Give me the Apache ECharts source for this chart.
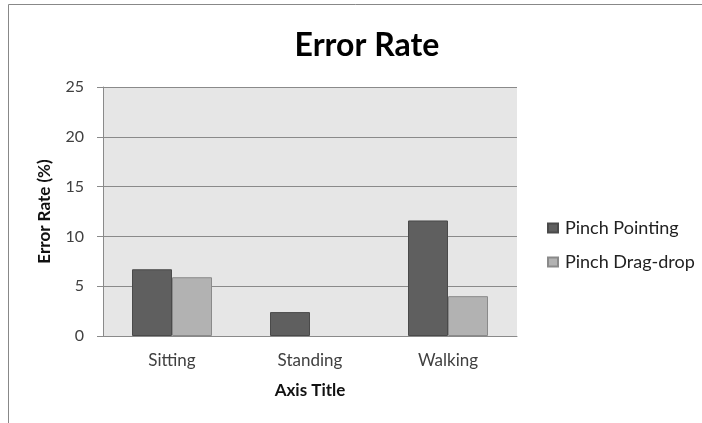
<!DOCTYPE html>
<html>
<head>
<meta charset="utf-8">
<script src="https://cdn.jsdelivr.net/npm/echarts@6/dist/echarts.min.js"></script>
<style>
html,body{margin:0;padding:0;background:#fff;}
#c{width:702px;height:423px;}
</style>
</head>
<body>
<div id="c"></div>
<script>
var categories = ['Sitting', 'Standing', 'Walking'];
var seriesNames = ['Pinch Pointing', 'Pinch Drag-drop'];
var pinchPointing = [6.7, 2.4, 11.6];
var pinchDragDrop = [5.9, 0, 4.0];
var yTicks = [0, 5, 10, 15, 20, 25];

function toBarData(values) {
  return values.map(function (v) {
    return v === 0 ? {value: v, itemStyle: {borderWidth: 0}} : v;
  });
}

var font = 'Lato, "Open Sans", sans-serif';
var chart = echarts.init(document.getElementById('c'));
chart.setOption({
  animation: false,
  backgroundColor: '#ffffff',
  title: {
    text: 'Error Rate',
    left: 362, top: 25, textAlign: 'center',
    textStyle: {fontFamily: font, fontWeight: 'bold', fontSize: 32, color: '#000'}
  },
  legend: {
    orient: 'vertical', left: 542, top: 214, itemGap: 16,
    itemWidth: 10, itemHeight: 9, icon: 'rect',
    textStyle: {fontFamily: font, fontSize: 18, color: '#222', padding: [0,0,0,2]},
    data: seriesNames
  },
  graphic: [{
    type: 'rect', silent: true,
    shape: {x: 8.5, y: 4.5, width: 720, height: 440},
    style: {fill: 'none', stroke: '#888', lineWidth: 1}
  }],
  grid: {
    left: 103, right: 185, top: 87, bottom: 87,
    show: true, backgroundColor: '#e6e6e6', borderWidth: 0
  },
  xAxis: {
    type: 'category', data: categories,
    name: 'Axis Title', nameLocation: 'middle', nameGap: 46,
    nameTextStyle: {fontFamily: font, fontWeight: 'bold', fontSize: 17, color: '#111'},
    axisLine: {lineStyle: {color: '#8a8a8a', width: 1}},
    axisTick: {show: false},
    axisLabel: {fontFamily: font, fontSize: 17, color: '#404040', margin: 16}
  },
  yAxis: {
    type: 'value', min: yTicks[0], max: yTicks[yTicks.length-1], interval: 5,
    name: 'Error Rate (%)', nameLocation: 'middle', nameGap: 50,
    nameTextStyle: {fontFamily: font, fontWeight: 'bold', fontSize: 17, color: '#111'},
    axisLine: {show: true, lineStyle: {color: '#8a8a8a', width: 1}},
    axisTick: {show: true, length: 6, lineStyle: {color: '#8a8a8a'}},
    axisLabel: {fontFamily: font, fontSize: 16, color: '#404040', margin: 19},
    splitLine: {lineStyle: {color: '#8a8a8a', width: 1}}
  },
  series: [{
    name: seriesNames[0], type: 'bar', data: toBarData(pinchPointing),
    barWidth: 40, barGap: '0%',
    itemStyle: {color: '#5f5f5f', borderColor: '#4a4a4a', borderWidth: 1}
  }, {
    name: seriesNames[1], type: 'bar', data: toBarData(pinchDragDrop),
    barWidth: 40, barGap: '0%',
    itemStyle: {color: '#b2b2b2', borderColor: '#8a8a8a', borderWidth: 1}
  }]
});
</script>
</body>
</html>
